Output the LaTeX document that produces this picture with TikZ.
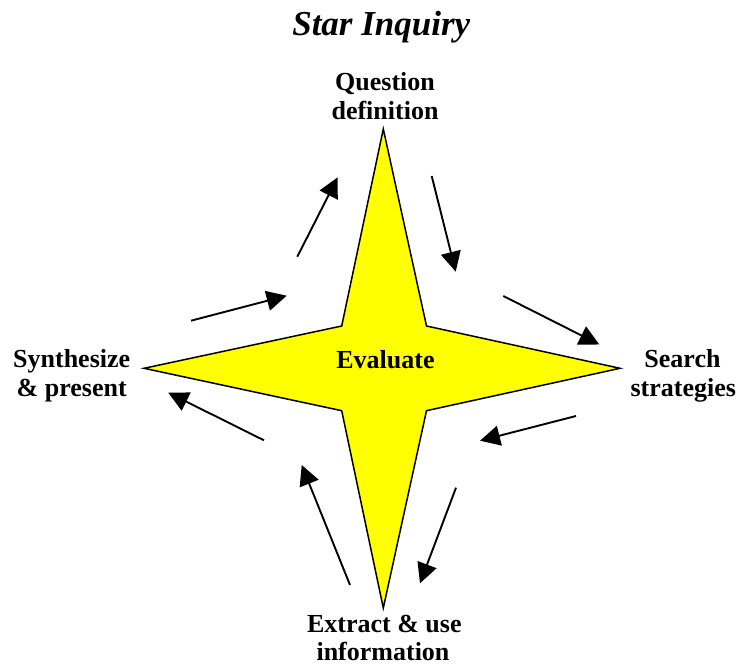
\documentclass[tikz,border=0pt]{standalone}
\usepackage{fontspec}
\setmainfont{Liberation Serif}
\usetikzlibrary{arrows.meta}
\tikzset{
  lbl/.style={font=\bfseries\fontsize{26}{30}\selectfont, inner sep=0pt, anchor=base},
  ttl/.style={font=\bfseries\itshape\fontsize{35}{40}\selectfont, inner sep=0pt, anchor=base},
  cyc/.style={line width=1.9pt, -{Triangle[length=20pt,width=20pt]}},
  starshape/.style={fill={rgb,255:red,255;green,255;blue,0}, draw=black, line width=1.5pt, line join=miter}
}
\begin{document}
\begin{tikzpicture}[x=1pt,y=-1pt]
\useasboundingbox (0,0) rectangle (739,671);
% star
\draw[starshape] (383.3,129) -- (426.5,326) -- (620,368.3) -- (426.5,410.7) -- (383.3,608) -- (341.7,410.7) -- (144,368.3) -- (341.7,326) -- cycle;
% texts
\node[ttl] (title) at (381.3,35.5) {Star Inquiry};
\node[lbl] (q1) at (385,90.5) {Question};
\node[lbl] (q2) at (385,120) {definition};
\node[lbl] (s1) at (682.5,367) {Search};
\node[lbl] (s2) at (683.3,396.7) {strategies};
\node[lbl] (e1) at (384.3,632.7) {Extract \& use};
\node[lbl] (e2) at (383,660.5) {information};
\node[lbl] (y1) at (71.7,367) {Synthesize};
\node[lbl] (y2) at (71.7,396.7) {\& present};
\node[lbl] (ev) at (385.5,368.3) {Evaluate};
% arrow end points
\coordinate (a1s) at (297.3,256.7); \coordinate (a1e) at (337.7,177.3);
\coordinate (a2s) at (191,320.7);   \coordinate (a2e) at (286.7,295.7);
\coordinate (a3s) at (431.7,176);   \coordinate (a3e) at (455.7,271.7);
\coordinate (a4s) at (503.3,296);   \coordinate (a4e) at (599.3,344.5);
\coordinate (a5s) at (576,416);     \coordinate (a5e) at (480,440.7);
\coordinate (a6s) at (456,487.7);   \coordinate (a6e) at (420,583.3);
\coordinate (a7s) at (350,585);     \coordinate (a7e) at (301.7,465);
\coordinate (a8s) at (264,440.3);   \coordinate (a8e) at (168.3,392.7);
\draw[cyc] (a1s) -- (a1e);
\draw[cyc] (a2s) -- (a2e);
\draw[cyc] (a3s) -- (a3e);
\draw[cyc] (a4s) -- (a4e);
\draw[cyc] (a5s) -- (a5e);
\draw[cyc] (a6s) -- (a6e);
\draw[cyc] (a7s) -- (a7e);
\draw[cyc] (a8s) -- (a8e);
\end{tikzpicture}
\end{document}
